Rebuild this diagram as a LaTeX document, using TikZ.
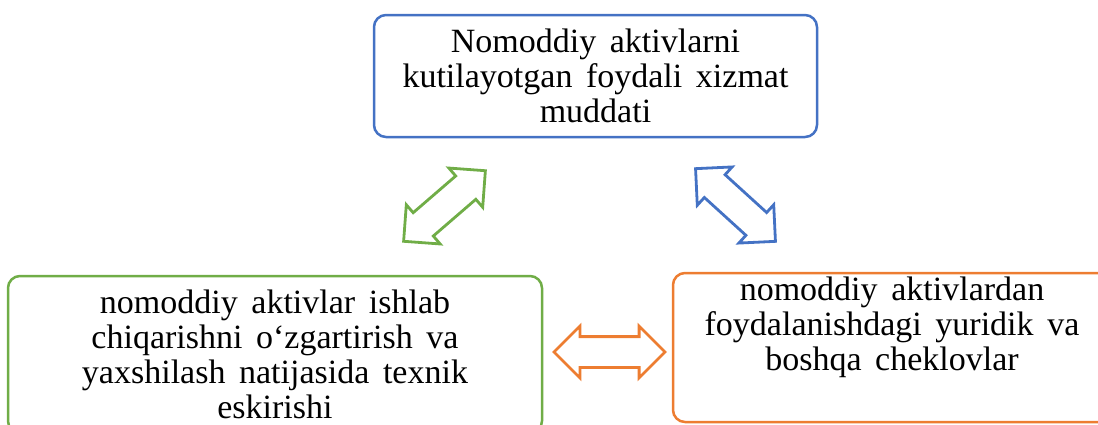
\documentclass[tikz,border=0pt]{standalone}
\usepackage{fontspec}
\setmainfont{Liberation Serif}
\usepackage{tikz}
\usetikzlibrary{shapes.arrows}
\definecolor{boxblue}{HTML}{4472C4}
\definecolor{boxorange}{HTML}{ED7D31}
\definecolor{boxgreen}{HTML}{70AD47}
\newcommand{\boxfont}{\fontsize{17}{17.5}\selectfont\spaceskip=0.4em\relax}
\tikzstyle{box_normal} = [rectangle, rounded corners=6pt, draw, line width=1.25pt, align=center, inner sep=0pt, font=\boxfont]
\tikzstyle{box_text} = [align=center, inner sep=0pt, font=\boxfont]
\tikzstyle{arrow_block} = [double arrow, draw, line width=1.4pt, inner xsep=0pt, inner ysep=7pt, minimum height=54pt, double arrow head extend=5.25pt]

\begin{document}
\begin{tikzpicture}[x=0.5pt, y=-0.5pt]
		\useasboundingbox (0,0) rectangle (1098,424);
		\node (top) at (595.5,76) [box_normal, boxblue, minimum width=221.5pt, minimum height=61pt] {\color{black}Nomoddiy aktivlarni\\\color{black}kutilayotgan foydali xizmat\\\color{black}muddati};
		\node (left) at (275,354.5) [box_normal, boxgreen, minimum width=267pt, minimum height=78.5pt] {\color{black}nomoddiy aktivlar ishlab\\\color{black}chiqarishni o‘zgartirish va\\\color{black}yaxshilash natijasida texnik\\\color{black}eskirishi};
		\node (right) at (892,347.5) [box_normal, boxorange, minimum width=219pt, minimum height=74.5pt] {};
		\node (right_text) at (892,277) [box_text, anchor=north] {nomoddiy aktivlardan\\foydalanishdagi yuridik va\\boshqa cheklovlar};
		
		\node (arrow_tl) at (444.5,206) [arrow_block, boxgreen, rotate=40.8] {};
		\node (arrow_tr) at (735.5,205) [arrow_block, boxblue, rotate=-42.3] {};
		\node (arrow_lr) at (609.5,352) [arrow_block, boxorange, minimum height=55.5pt] {};
		\end{tikzpicture}
\end{document}
